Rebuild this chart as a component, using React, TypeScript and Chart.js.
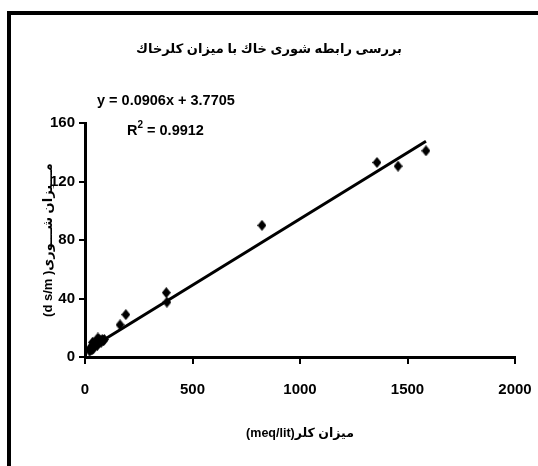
import React, { useEffect, useRef } from 'react';
import { Chart, registerables } from 'chart.js';

Chart.register(...registerables);

const TITLE = 'بررسی رابطه شوری خاك با میزان كلرخاك';
const X_TITLE = '(meq/lit)میزان كلر';
const Y_TITLE = '(d s/m )مـــیزان شـــوری';

// Chloride (meq/lit)
const chlorideX = [22, 25, 28, 30, 33, 35, 36, 40, 42, 45, 48, 52, 55, 58, 60, 62, 65, 70, 75, 80, 85, 90, 163, 190, 378, 381, 823, 1358, 1456, 1586];
// Salinity (d s/m)
const salinityY = [4, 6, 5, 7, 5, 10, 8, 6, 9, 8, 10, 9, 11, 8, 13, 10, 12, 11, 10, 12, 11, 12, 22, 29, 44, 37.5, 90, 133, 130.5, 141];

const X_TICKS = [0, 500, 1000, 1500, 2000];
const Y_TICKS = [0, 40, 80, 120, 160];

const SLOPE = 0.0906;
const INTERCEPT = 3.7705;
const EQUATION = 'y = 0.0906x + 3.7705';
const R2_VALUE = '0.9912';

const FONT = '"Liberation Sans", "DejaVu Sans", Arial, sans-serif';

function makeDiamond(): HTMLCanvasElement {
  const c = document.createElement('canvas');
  c.width = 9;
  c.height = 11;
  const g = c.getContext('2d')!;
  g.fillStyle = '#000';
  g.beginPath();
  g.moveTo(4.5, 0);
  g.lineTo(9, 5.5);
  g.lineTo(4.5, 11);
  g.lineTo(0, 5.5);
  g.closePath();
  g.fill();
  return c;
}

export default function App() {
  const ref = useRef<HTMLCanvasElement | null>(null);

  useEffect(() => {
    document.body.style.margin = '0';
    const canvas = ref.current;
    if (!canvas) return;

    const points = chlorideX.map((x, i) => ({ x, y: salinityY[i] }));
    const xMin = Math.min(...chlorideX);
    const xMax = Math.max(...chlorideX);
    const trend = [
      { x: xMin, y: SLOPE * xMin + INTERCEPT },
      { x: xMax, y: SLOPE * xMax + INTERCEPT },
    ];

    const framePlugin = {
      id: 'frame',
      beforeDraw(chart: any) {
        const ctx = chart.ctx;
        ctx.save();
        ctx.fillStyle = '#fff';
        ctx.fillRect(0, 0, chart.width, chart.height);
        ctx.strokeStyle = '#000';
        ctx.lineWidth = 4;
        ctx.beginPath();
        ctx.moveTo(9, chart.height + 5);
        ctx.lineTo(9, 13);
        ctx.lineTo(chart.width + 5, 13);
        ctx.stroke();
        ctx.restore();
      },
      afterDraw(chart: any) {
        const ctx = chart.ctx;
        ctx.save();
        ctx.fillStyle = '#000';
        ctx.textBaseline = 'middle';
        ctx.textAlign = 'left';
        ctx.font = `bold 14.5px ${FONT}`;
        ctx.fillText(EQUATION, 97, 101);
        let x = 127;
        ctx.fillText('R', x, 131);
        x += ctx.measureText('R').width;
        ctx.font = `bold 10px ${FONT}`;
        ctx.fillText('2', x, 125);
        x += ctx.measureText('2').width;
        ctx.font = `bold 14.5px ${FONT}`;
        ctx.fillText(' = ' + R2_VALUE, x, 131);
        ctx.restore();
      },
    };

    const plainTick = (v: any) => String(v);

    const chart = new Chart(canvas, {
      type: 'scatter',
      data: {
        datasets: [
          {
            label: 'data',
            data: points,
            pointStyle: makeDiamond() as any,
            pointRadius: 5,
            backgroundColor: '#000',
            borderColor: '#000',
            showLine: false,
            order: 2,
          },
          {
            label: 'trend',
            type: 'line',
            data: trend,
            borderColor: '#000',
            borderWidth: 3,
            pointRadius: 0,
            fill: false,
            order: 1,
          } as any,
        ],
      },
      options: {
        animation: false,
        responsive: false,
        layout: { padding: 0 },
        plugins: {
          legend: { display: false },
          tooltip: { enabled: false },
          title: {
            display: true,
            text: TITLE,
            color: '#000',
            font: { family: FONT, size: 13, weight: 'bold' },
            padding: { top: 42, bottom: 65.4 },
          },
        },
        scales: {
          x: {
            type: 'linear',
            min: X_TICKS[0],
            max: X_TICKS[X_TICKS.length - 1],
            ticks: {
              stepSize: X_TICKS[1] - X_TICKS[0],
              color: '#000',
              font: { family: FONT, size: 15, weight: 'bold' },
              padding: 17,
              maxRotation: 0,
              callback: plainTick,
            },
            grid: {
              drawOnChartArea: false,
              drawTicks: true,
              tickLength: 7,
              color: '#000',
              lineWidth: 2,
            },
            border: { display: true, color: '#000', width: 3 },
            title: {
              display: true,
              text: X_TITLE,
              color: '#000',
              font: { family: FONT, size: 12.5, weight: 'bold' },
              padding: { top: 0, bottom: 25 },
            },
            afterFit(scale: any) {
              scale.height = 466 - 357;
              scale.paddingLeft = 0;
              scale.paddingRight = 23;
            },
          },
          y: {
            type: 'linear',
            min: Y_TICKS[0],
            max: Y_TICKS[Y_TICKS.length - 1],
            ticks: {
              stepSize: Y_TICKS[1] - Y_TICKS[0],
              color: '#000',
              font: { family: FONT, size: 15, weight: 'bold' },
              padding: 4,
              callback: plainTick,
            },
            grid: {
              drawOnChartArea: false,
              drawTicks: true,
              tickLength: 6,
              color: '#000',
              lineWidth: 2,
            },
            border: { display: true, color: '#000', width: 3 },
            title: {
              display: true,
              text: Y_TITLE,
              color: '#000',
              font: { family: FONT, size: 13, weight: 'bold' },
              padding: { top: 41, bottom: 0 },
            },
            afterFit(scale: any) {
              scale.width = 85;
              scale.paddingTop = 0;
              scale.paddingBottom = 0;
            },
          },
        },
      },
      plugins: [framePlugin],
    });

    return () => chart.destroy();
  }, []);

  return (
    <div style={{ width: 538, height: 466 }}>
      <canvas ref={ref} width={538} height={466} style={{ display: 'block' }} />
    </div>
  );
}
